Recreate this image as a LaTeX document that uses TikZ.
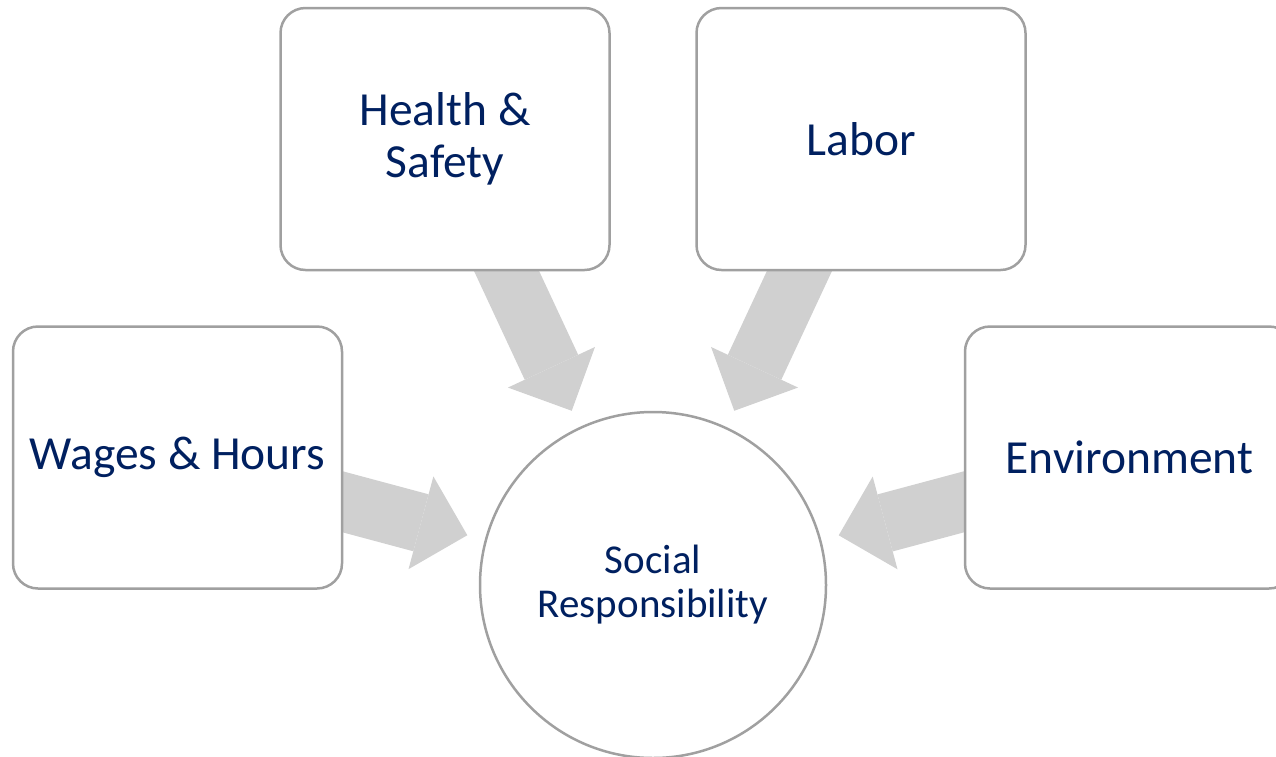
\documentclass[tikz,border=0pt]{standalone}
\usepackage{fontspec}
\setmainfont{Carlito}
\usepackage{tikz}
\usetikzlibrary{arrows.meta,backgrounds}
\definecolor{navytext}{RGB}{0,32,96}
\definecolor{boxline}{RGB}{160,160,160}
\definecolor{arrowgray}{RGB}{208,208,208}

\begin{document}
\begin{tikzpicture}[x=1pt,y=-1pt]
\tikzset{topic/.style={draw=boxline,line width=2.5pt,fill=white,rounded corners=25pt,minimum width=329pt,minimum height=262pt,align=center,text=navytext,font=\fontsize{47.5}{52}\selectfont},
hub/.style={circle,draw=boxline,line width=2.5pt,fill=white,minimum size=346pt,align=center,text=navytext,font=\fontsize{41}{44}\selectfont},
feed/.style={arrowgray,line width=59pt,shorten >=18pt,-{Triangle[length=48pt,width=96pt,line width=0pt]}}}
\clip (0,0) rectangle (1276,756);

\node[hub] (soc) at (653,585) {Social\\Responsibility};
\node[topic] (hs) at (445,139) {Health \&\\Safety};
\node[topic] (lab) at (861,139) {Labor};
\node[topic] (wag) at (177.5,457.5) {Wages \& Hours};
\node[topic] (env) at (1129.5,457.5) {Environment};

% block arrows behind the boxes
\begin{scope}[on background layer]
\draw[feed] (hs.center) -- (soc);
\draw[feed] (lab.center) -- (soc);
\draw[feed] (wag.center) -- (soc);
\draw[feed] (env.center) -- (soc);
\end{scope}
\end{tikzpicture}
\end{document}
